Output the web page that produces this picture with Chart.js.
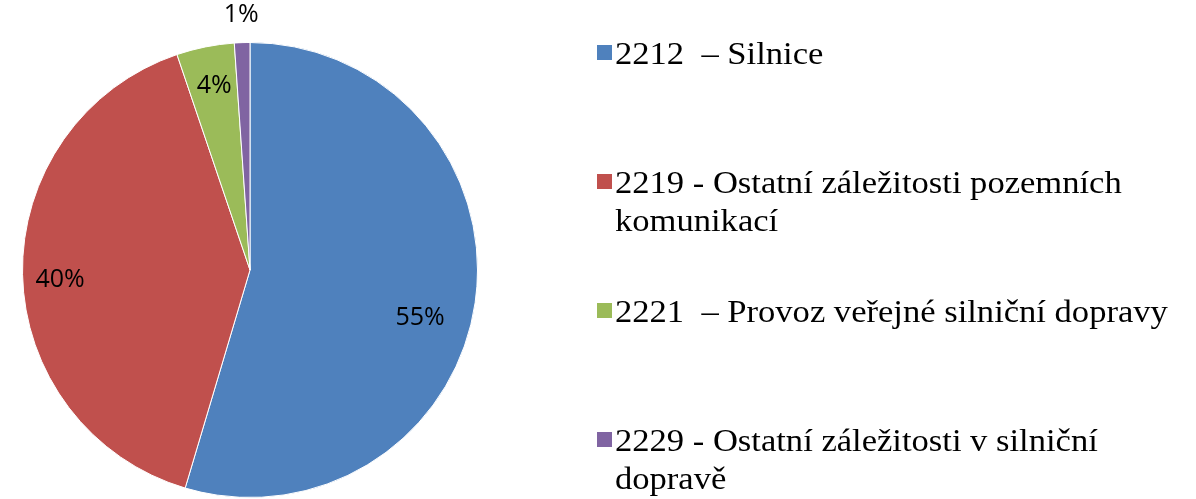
<!DOCTYPE html>
<html>
<head>
<meta charset="utf-8">
<script src="https://cdn.jsdelivr.net/npm/chart.js@4/dist/chart.umd.min.js"></script>
<style>
  html, body { margin: 0; padding: 0; background: #fff; }
  #wrap { position: relative; width: 1196px; height: 499px; overflow: hidden; }
  #c { position: absolute; left: 0; top: 0; }
  .sw { position: absolute; left: 597px; width: 15px; height: 15px; }
  .tx { position: absolute; left: 615px; white-space: pre; line-height: 38px;
        font-family: "Liberation Serif", "Times New Roman", serif; font-size: 32px; color: #000;
        transform: scaleX(1.08); transform-origin: 0 0; }
</style>
</head>
<body>
<div id="wrap">
  <canvas id="c" width="1196" height="499"></canvas>
</div>
<script>
const categories = [
  "2212  \u2013 Silnice",
  "2219 - Ostatní záležitosti pozemních komunikací",
  "2221  \u2013 Provoz veřejné silniční dopravy",
  "2229 - Ostatní záležitosti v silniční dopravě"
];
const legendLines = [
  ["2212  \u2013 Silnice"],
  ["2219 - Ostatní záležitosti pozemních", "komunikací"],
  ["2221  \u2013 Provoz veřejné silniční dopravy"],
  ["2229 - Ostatní záležitosti v silniční", "dopravě"]
];
const values = [54.6, 40.2, 4.1, 1.1];
const colors = ["#4F81BD", "#C0504D", "#9BBB59", "#8064A2"];

const labelPlugin = {
  id: 'pctLabels',
  afterDatasetsDraw(chart, args, opts) {
    const ctx = chart.ctx;
    const meta = chart.getDatasetMeta(0);
    const total = values.reduce((a, b) => a + b, 0);
    ctx.save();
    ctx.font = '25px "Open Sans", "Noto Sans", sans-serif';
    ctx.fillStyle = '#000';
    ctx.textAlign = 'center';
    ctx.textBaseline = 'middle';
    meta.data.forEach((arc, i) => {
      const p = arc.getProps(['x', 'y', 'startAngle', 'endAngle', 'outerRadius'], true);
      const mid = (p.startAngle + p.endAngle) / 2;
      const pct = values[i] / total * 100;
      const f = pct < 2 ? 1.12 : 0.8;
      const off = opts.offsets[i] || [0, 0];
      const x = p.x + Math.cos(mid) * p.outerRadius * f + off[0];
      const y = p.y + Math.sin(mid) * p.outerRadius * f + off[1];
      ctx.fillText(Math.round(pct) + '%', x, y);
    });
    ctx.restore();
  }
};

new Chart(document.getElementById('c'), {
  type: 'pie',
  data: {
    labels: categories,
    datasets: [{
      data: values,
      backgroundColor: colors,
      borderColor: '#ffffff',
      borderWidth: 1
    }]
  },
  options: {
    responsive: false,
    animation: false,
    layout: { padding: { left: 22, right: 718, top: 42, bottom: 1 } },
    plugins: {
      legend: { display: false },
      tooltip: { enabled: false },
      pctLabels: { offsets: [[-10, 22], [-8, 6], [0, -6], [0, 0]] }
    }
  },
  plugins: [labelPlugin]
});

const centers = [53, 182, 311, 440];
const wrap = document.getElementById('wrap');
legendLines.forEach((lines, i) => {
  const sw = document.createElement('div');
  sw.className = 'sw';
  sw.style.top = (centers[i] - 8) + 'px';
  sw.style.background = colors[i];
  wrap.appendChild(sw);
  const tx = document.createElement('div');
  tx.className = 'tx';
  tx.style.top = (centers[i] - 19) + 'px';
  tx.textContent = lines.join('\n');
  wrap.appendChild(tx);
});
</script>
</body>
</html>
